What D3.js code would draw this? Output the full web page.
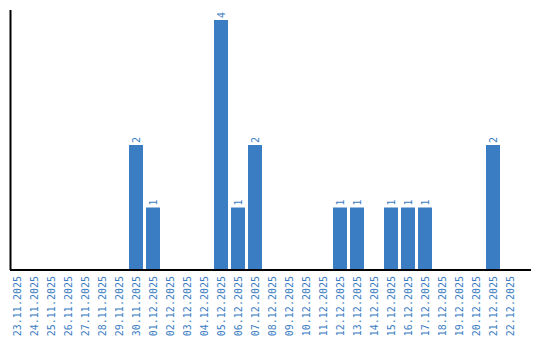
<!DOCTYPE html>
<html>
<head>
<meta charset="utf-8">
<script src="https://cdn.jsdelivr.net/npm/d3@7"></script>
<style>
  body { margin: 0; background: #fff; }
  text { font-family: "DejaVu Sans Mono", "Liberation Mono", monospace; }
</style>
</head>
<body>
<div id="chart"></div>
<script>
const dates = ["23.11.2025", "24.11.2025", "25.11.2025", "26.11.2025", "27.11.2025", "28.11.2025",
    "29.11.2025", "30.11.2025", "01.12.2025", "02.12.2025", "03.12.2025", "04.12.2025",
    "05.12.2025", "06.12.2025", "07.12.2025", "08.12.2025", "09.12.2025", "10.12.2025",
    "11.12.2025", "12.12.2025", "13.12.2025", "14.12.2025", "15.12.2025", "16.12.2025",
    "17.12.2025", "18.12.2025", "19.12.2025", "20.12.2025", "21.12.2025", "22.12.2025"];
const counts = [0, 0, 0, 0, 0, 0, 0, 2, 1, 0, 0, 0, 4, 1, 2, 0, 0, 0, 0, 1, 1, 0, 1, 1, 1, 0, 0, 0, 2, 0];

const width = 540;
const height = 340;
const barColor = "#3b7dc2";

const svg = d3.select("#chart")
    .append("svg")
    .attr("width", width)
    .attr("height", height);

const x = d3.scaleBand()
    .domain(dates)
    .range([10, 517])
    .paddingInner(3 / 17)
    .paddingOuter(0);

const y = d3.scaleLinear()
    .domain([0, 4])
    .range([270, 20]);

const data = dates.map((d, i) => ({ date: d, count: counts[i] }));

svg.selectAll(".bar")
    .data(data.filter(d => d.count > 0))
    .enter().append("rect")
    .attr("class", "bar")
    .attr("x", d => x(d.date))
    .attr("y", d => y(d.count))
    .attr("width", x.bandwidth())
    .attr("height", d => y(0) - y(d.count))
    .style("fill", barColor);

// value labels, rotated
svg.selectAll(".val")
    .data(data.filter(d => d.count > 0))
    .enter().append("text")
    .attr("class", "val")
    .attr("transform", d => "translate(" + (x(d.date) + x.bandwidth() / 2) + "," + (y(d.count) - 2) + ") rotate(-90)")
    .attr("dy", "0.35em")
    .style("text-anchor", "start")
    .style("font-size", "10px")
    .style("fill", barColor)
    .text(d => d.count);

// axes lines
svg.append("line")
    .attr("x1", 10.5).attr("x2", 10.5)
    .attr("y1", 10).attr("y2", 270)
    .style("stroke", "#000").style("stroke-width", 2);

svg.append("line")
    .attr("x1", 10).attr("x2", 531)
    .attr("y1", 270).attr("y2", 270)
    .style("stroke", "#000").style("stroke-width", 2);

// date labels
svg.selectAll(".date")
    .data(dates)
    .enter().append("text")
    .attr("class", "date")
    .attr("transform", d => "translate(" + (x(d) + x.bandwidth() / 2) + ",276) rotate(-90)")
    .attr("dy", "0.35em")
    .style("text-anchor", "end")
    .style("font-size", "10px")
    .style("fill", barColor)
    .text(d => d);
</script>
</body>
</html>
